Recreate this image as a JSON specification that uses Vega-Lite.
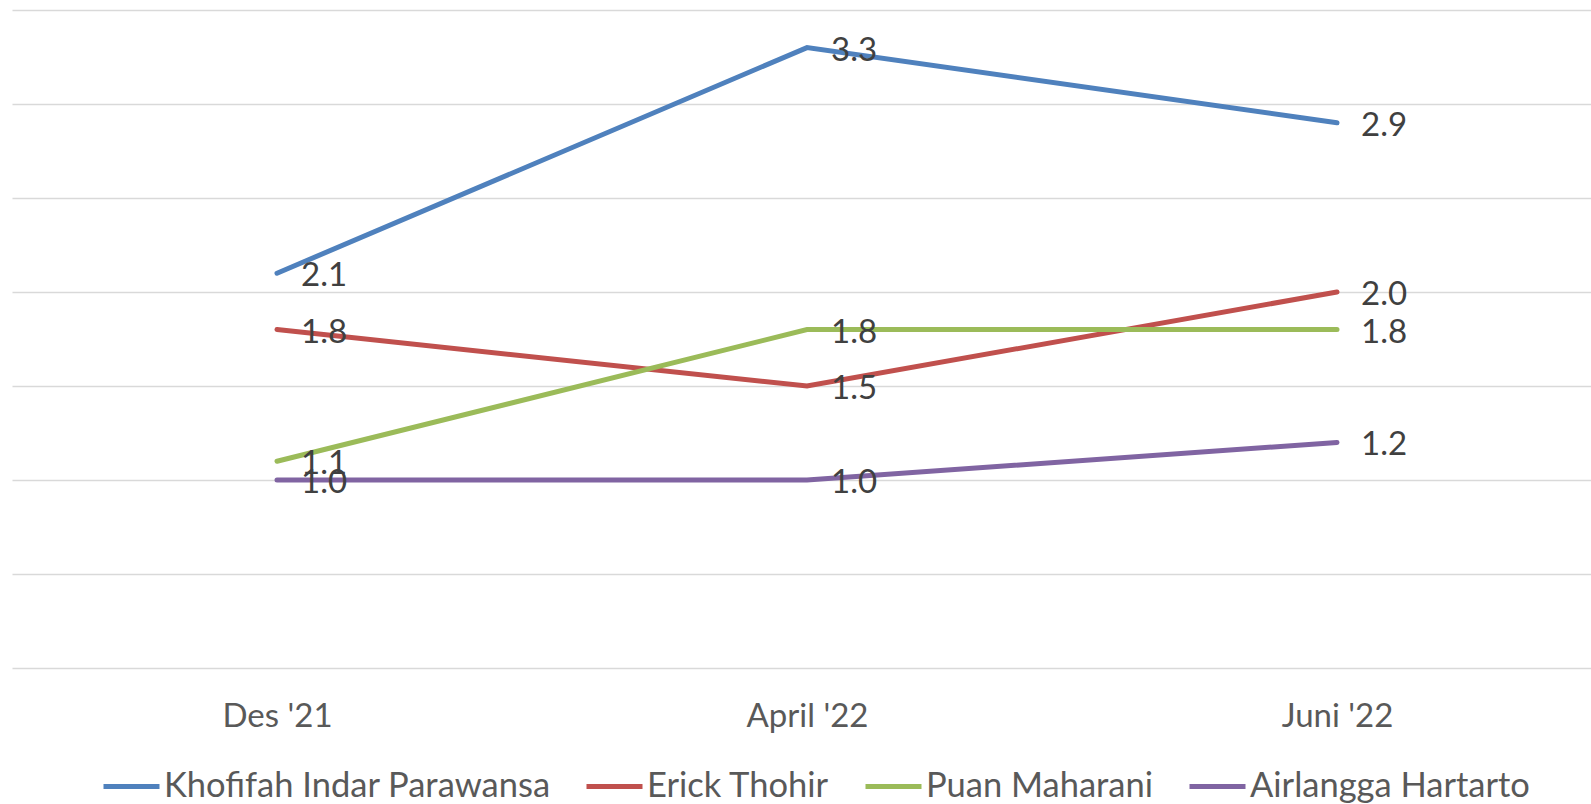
{
  "$schema": "https://vega.github.io/schema/vega-lite/v6.json",
  "width": 1590,
  "height": 658,
  "padding": {"left": 12, "top": 10, "right": 0, "bottom": 0},
  "autosize": {"type": "pad"},
  "background": "white",
  "config": {"view": {"stroke": null}, "font": "Lato"},
  "data": {
    "values": [
      {"periode": "Des '21", "tokoh": "Khofifah Indar Parawansa", "nilai": 2.1},
      {"periode": "April '22", "tokoh": "Khofifah Indar Parawansa", "nilai": 3.3},
      {"periode": "Juni '22", "tokoh": "Khofifah Indar Parawansa", "nilai": 2.9},
      {"periode": "Des '21", "tokoh": "Erick Thohir", "nilai": 1.8},
      {"periode": "April '22", "tokoh": "Erick Thohir", "nilai": 1.5},
      {"periode": "Juni '22", "tokoh": "Erick Thohir", "nilai": 2.0},
      {"periode": "Des '21", "tokoh": "Puan Maharani", "nilai": 1.1},
      {"periode": "April '22", "tokoh": "Puan Maharani", "nilai": 1.8},
      {"periode": "Juni '22", "tokoh": "Puan Maharani", "nilai": 1.8},
      {"periode": "Des '21", "tokoh": "Airlangga Hartarto", "nilai": 1.0},
      {"periode": "April '22", "tokoh": "Airlangga Hartarto", "nilai": 1.0},
      {"periode": "Juni '22", "tokoh": "Airlangga Hartarto", "nilai": 1.2}
    ]
  },
  "encoding": {
    "x": {
      "field": "periode", "type": "ordinal",
      "sort": ["Des '21", "April '22", "Juni '22"],
      "scale": {"type": "point", "padding": 0.5},
      "axis": {"title": null, "domain": false, "ticks": false, "labelAngle": 0, "labelFontSize": 33, "labelColor": "#595959", "labelPadding": 32, "grid": false}
    },
    "y": {
      "field": "nilai", "type": "quantitative",
      "scale": {"domain": [0, 3.5], "nice": false, "zero": true},
      "axis": {"title": null, "labels": false, "ticks": false, "domain": false, "values": [0, 0.5, 1, 1.5, 2, 2.5, 3, 3.5], "gridColor": "#D9D9D9", "gridWidth": 1.3}
    }
  },
  "layer": [
    {
      "mark": {"type": "line", "strokeWidth": 5, "strokeCap": "round"},
      "encoding": {
        "color": {
          "field": "tokoh", "type": "nominal",
          "sort": ["Khofifah Indar Parawansa", "Erick Thohir", "Puan Maharani", "Airlangga Hartarto"],
          "scale": {"domain": ["Khofifah Indar Parawansa", "Erick Thohir", "Puan Maharani", "Airlangga Hartarto"], "range": ["#4F81BD", "#C0504D", "#9BBB59", "#8064A2"]},
          "legend": {"title": null, "orient": "none", "legendX": 89, "legendY": 746, "direction": "horizontal", "symbolType": "stroke", "symbolSize": 3136, "symbolStrokeWidth": 5, "labelFontSize": 34.5, "labelColor": "#595959", "columnPadding": 25, "labelOffset": 2, "labelLimit": 600}
        }
      }
    },
    {
      "mark": {"type": "text", "align": "left", "baseline": "middle", "dx": 24, "dy": 3, "fontSize": 33, "color": "#404040"},
      "encoding": {
        "text": {"field": "nilai", "type": "quantitative", "format": ".1f"},
        "detail": {"field": "tokoh"}
      }
    }
  ]
}
